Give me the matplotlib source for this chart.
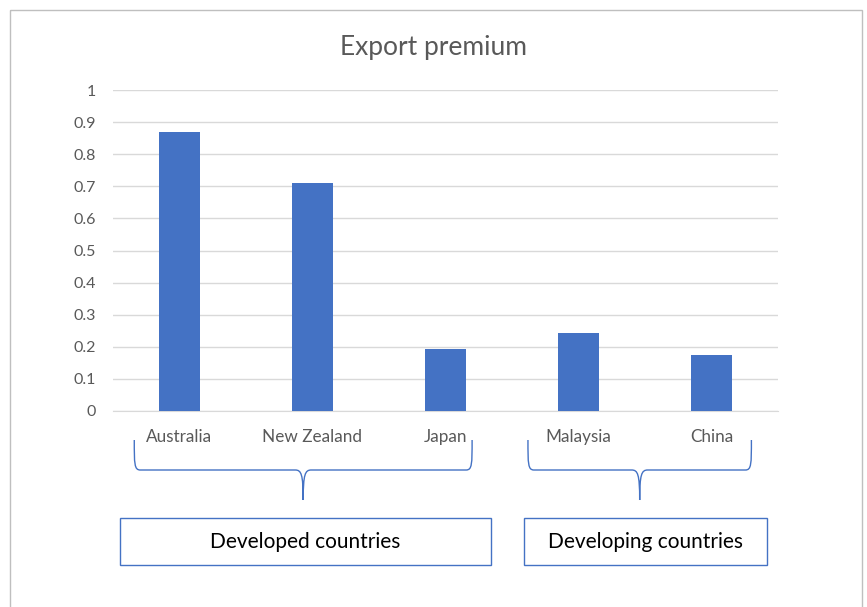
import matplotlib
matplotlib.use("Agg")
import matplotlib.pyplot as plt
from matplotlib.path import Path
from matplotlib.patches import PathPatch, Rectangle

# Data
countries = ["Australia", "New Zealand", "Japan", "Malaysia", "China"]
premium = [0.869, 0.711, 0.194, 0.243, 0.174]
y_ticks = [0, 0.1, 0.2, 0.3, 0.4, 0.5, 0.6, 0.7, 0.8, 0.9, 1]
y_tick_labels = ["0", "0.1", "0.2", "0.3", "0.4", "0.5", "0.6", "0.7", "0.8", "0.9", "1"]
groups = ["Developed countries", "Developing countries"]
group_spans = [(-0.34, 2.2), (2.62, 4.3)]  # brace extents in category units

W, H = 867, 607
BLUE = "#4472C4"
GREY_TXT = "#595959"
GRID = "#d9d9d9"
FONT = "Lato"

fig = plt.figure(figsize=(W / 100, H / 100), dpi=100)
fig.patch.set_facecolor("white")

# Main bar axes
ax = fig.add_axes([113 / W, (H - 411) / H, (778 - 113) / W, (411 - 90) / H])
x = list(range(len(countries)))
ax.bar(x, premium, width=0.31, color=BLUE, zorder=3)
ax.set_xlim(-0.5, len(countries) - 0.5)
ax.set_ylim(0, 1)
ax.set_yticks(y_ticks)
ax.set_yticklabels(y_tick_labels)
ax.set_xticks(x)
ax.set_xticklabels(countries)
ax.grid(axis="y", color=GRID, linewidth=1.0, zorder=0)
for s in ["top", "right", "left"]:
    ax.spines[s].set_visible(False)
ax.spines["bottom"].set_color(GRID)
ax.tick_params(axis="y", length=0, pad=12, labelsize=11.5, labelcolor=GREY_TXT)
ax.tick_params(axis="x", length=0, pad=13, labelsize=12.3, labelcolor=GREY_TXT)
for lbl in ax.get_xticklabels() + ax.get_yticklabels():
    lbl.set_fontfamily(FONT)

fig.text(0.5, 1 - 47 / H, "Export premium", ha="center", va="center",
         fontsize=19, color=GREY_TXT, family=FONT)

# Overlay axes in pixel coordinates for braces, boxes and border
ov = fig.add_axes([0, 0, 1, 1], facecolor="none")
ov.set_xlim(0, W)
ov.set_ylim(H, 0)
ov.axis("off")


def to_px(xv):
    disp = ax.transData.transform((xv, 0))
    return disp[0] * W / fig.bbox.width


def brace(x0, x1, ytop, ymid, ytip):
    c = (x0 + x1) / 2
    r = 6
    verts = [
        (x0, ytop),
        (x0, ymid - r), (x0, ymid), (x0 + r, ymid),
        (c - 8, ymid),
        (c - 2, ymid), (c, ymid + 4), (c, ytip),
        (c, ymid + 4), (c + 2, ymid), (c + 8, ymid),
        (x1 - r, ymid),
        (x1, ymid), (x1, ymid - r), (x1, ytop),
    ]
    codes = [Path.MOVETO,
             Path.CURVE4, Path.CURVE4, Path.CURVE4,
             Path.LINETO,
             Path.CURVE4, Path.CURVE4, Path.CURVE4,
             Path.CURVE4, Path.CURVE4, Path.CURVE4,
             Path.LINETO,
             Path.CURVE4, Path.CURVE4, Path.CURVE4]
    ov.add_patch(PathPatch(Path(verts, codes), fill=False, edgecolor=BLUE, lw=1.0))


for (a, b) in group_spans:
    brace(to_px(a), to_px(b), 440, 470, 500)

boxes = [(120, 491), (524, 767)]
for (bx0, bx1), name in zip(boxes, groups):
    ov.add_patch(Rectangle((bx0, 518), bx1 - bx0, 47, fill=False, edgecolor=BLUE, lw=1.0))
    ov.text((bx0 + bx1) / 2, 541.5, name, ha="center", va="center",
            fontsize=15, color="black", family=FONT)

# Chart-area border
ov.add_patch(Rectangle((9.5, 9.5), 852, 620, fill=False, edgecolor="#bfbfbf", lw=1.0,
                       clip_on=False))

fig.savefig("out.png", dpi=100, facecolor="white")
